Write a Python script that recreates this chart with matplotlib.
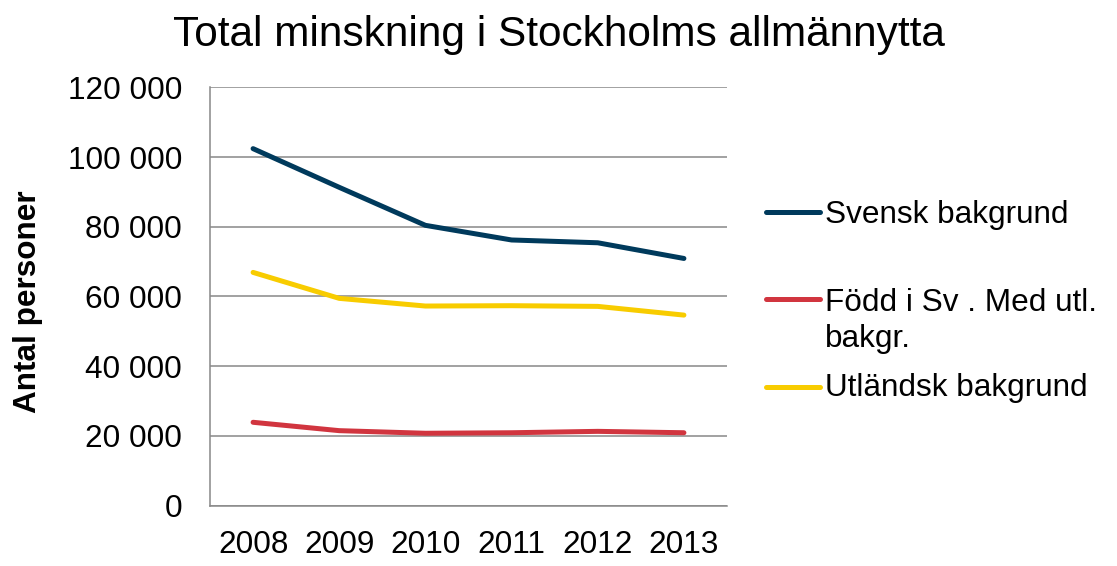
import matplotlib
matplotlib.use("Agg")
import matplotlib.pyplot as plt
from matplotlib.lines import Line2D
from matplotlib.ticker import FuncFormatter, MultipleLocator

plt.rcParams["font.family"] = ["Liberation Sans", "DejaVu Sans"]

# Antal personer per bakgrund, 2008–2013
years    = ["2008", "2009", "2010", "2011", "2012", "2013"]
svensk   = [102400, 91300, 80400, 76200, 75400, 70900]
fodd     = [23900, 21500, 20750, 20900, 21300, 20900]
utlandsk = [66900, 59450, 57250, 57350, 57150, 54650]

labels = ["Svensk bakgrund", "Född i Sv . Med utl.\nbakgr.", "Utländsk bakgrund"]
colors = ["#003a5c", "#d1353f", "#f8cc00"]

FS = 22.7
W, H = 1117, 566

fig = plt.figure(figsize=(W / 100, H / 100), dpi=100)
ax = fig.add_axes([210 / W, 1 - 505.6 / H, 517 / W, (505.6 - 87.3) / H])

x = range(len(years))
for vals, c in zip([svensk, fodd, utlandsk], colors):
    ax.plot(x, vals, color=c, linewidth=3.6, solid_capstyle="round",
            solid_joinstyle="round", zorder=3)

ax.set_xlim(-0.5, len(years) - 0.5)
ax.set_xticks(list(x))
ax.set_xticklabels(years)
ax.set_ylim(0, 120000)
ax.yaxis.set_major_locator(MultipleLocator(20000))
ax.yaxis.set_major_formatter(FuncFormatter(lambda v, p: f"{int(v):,}".replace(",", " ")))

ax.grid(axis="y", color="#888888", linewidth=1.1)
ax.set_axisbelow(True)
for side in ["top", "right"]:
    ax.spines[side].set_visible(False)
for side in ["left", "bottom"]:
    ax.spines[side].set_color("#888888")
    ax.spines[side].set_linewidth(1.1)

ax.tick_params(axis="both", length=0, labelsize=FS, colors="black")
ax.tick_params(axis="y", pad=20)
ax.tick_params(axis="x", pad=17.5)

# Titel och y-axelns rubrik
fig.text(558.5 / W, 1 - 46 / H, "Total minskning i Stockholms allmännytta",
         ha="center", va="baseline", fontsize=30.5)
fig.text(28 / W, 1 - 301.5 / H, "Antal personer", rotation=90,
         ha="center", va="center", fontsize=FS, fontweight="bold")

# Förklaring till höger om diagrammet (baslinje = sista textraden)
legend_y = [212.3, 299, 386.7]
text_base = [223.3, 346.7, 396]
for lbl, c, ly, tb in zip(labels, colors, legend_y, text_base):
    fig.add_artist(Line2D([766 / W, 820 / W], [1 - ly / H, 1 - ly / H],
                          color=c, linewidth=3.6, solid_capstyle="round"))
    fig.text(825 / W, 1 - tb / H, lbl, ha="left", va="baseline",
             fontsize=FS, linespacing=1.24)

fig.savefig("out.png", dpi=100)
